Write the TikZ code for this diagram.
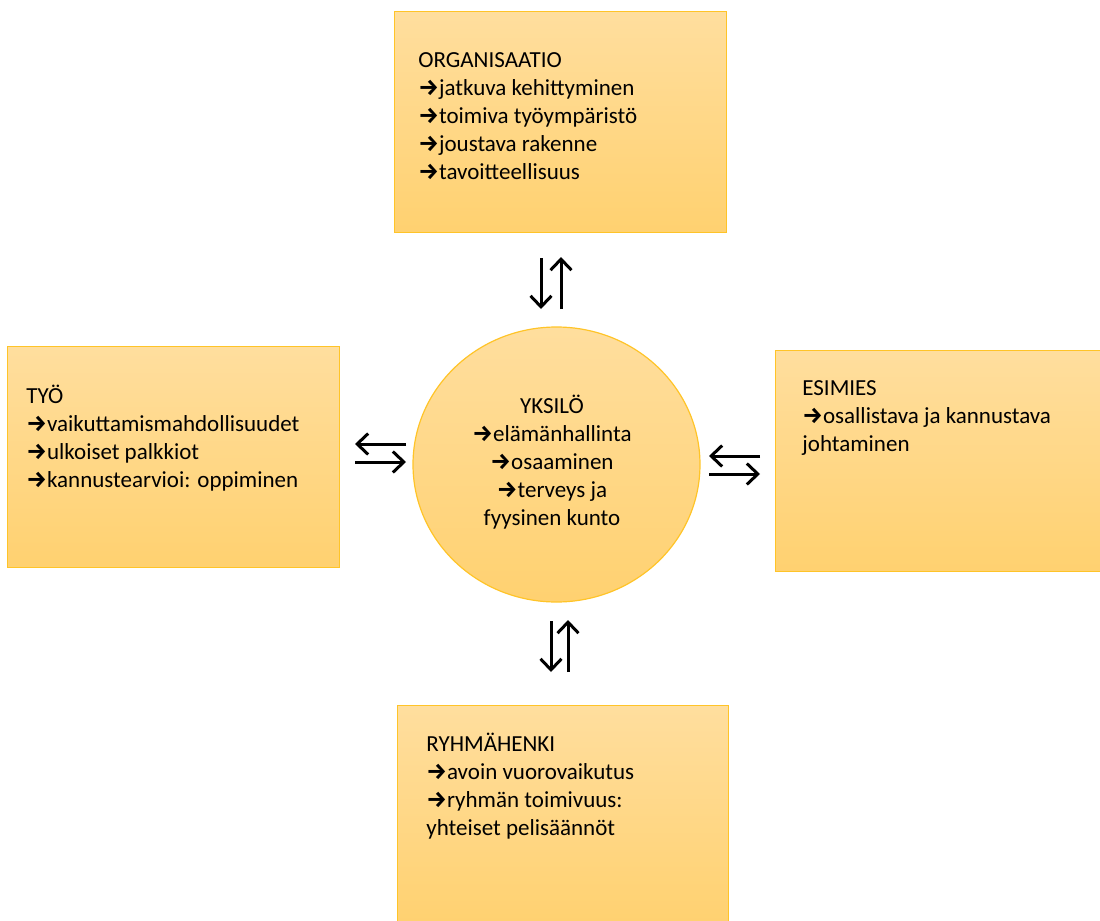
\documentclass[tikz,border=0pt]{standalone}
\usepackage{fontspec}
\setmainfont{Carlito}
\newfontfamily\arrowfont{Fira Sans}
\usetikzlibrary{arrows.meta,shapes.geometric}

\definecolor{goldtop}{RGB}{255,222,158}
\definecolor{goldbot}{RGB}{255,209,112}
\definecolor{goldedge}{RGB}{255,196,40}

% bullet arrow used in front of the list items
\newcommand{\ra}{{\arrowfont\bfseries →}}

\begin{document}
\begin{tikzpicture}[x=0.5pt,y=-0.5pt,
  panel/.style={draw=goldedge, line width=0.6pt, top color=goldtop, bottom color=goldbot,
    rectangle, anchor=north west, inner sep=0pt},
  blob/.style={draw=goldedge, line width=0.6pt, top color=goldtop, bottom color=goldbot,
    ellipse, inner sep=0pt},
  txt/.style={anchor=base west, align=left, inner sep=0pt,
    font=\fontsize{11.5}{14}\selectfont},
  ctxt/.style={anchor=base, align=center, inner sep=0pt,
    font=\fontsize{11.5}{14}\selectfont},
  flow/.style={line width=1.5pt, -{Straight Barb[length=5.5pt,width=10.5pt,line width=1.5pt]}}]

\useasboundingbox (0,0) rectangle (1100,921);

% boxes around the central circle
\node[panel, minimum width=166pt, minimum height=110.5pt] (org) at (394,11) {};
\node[panel, minimum width=166pt, minimum height=110.5pt] (tyo) at (7,346) {};
\node[panel, minimum width=166pt, minimum height=110.5pt] (esi) at (775,350) {};
\node[panel, minimum width=165.5pt, minimum height=110pt] (ryh) at (397,705) {};
\node[blob, minimum width=143.5pt, minimum height=137.5pt] (yks) at (556.5,464.5) {};

% texts (anchored at the baseline of their last line)
\node[txt] (orgt) at (418,179) {ORGANISAATIO\\\ra jatkuva kehittyminen\\\ra toimiva työympäristö\\\ra joustava rakenne\\\ra tavoitteellisuus};
\node[txt] (tyot) at (26,487) {TYÖ\\\ra vaikuttamismahdollisuudet\\\ra ulkoiset palkkiot\\\ra kannustearvioi: oppiminen};
\node[txt] (esit) at (802,451) {ESIMIES\\\ra osallistava ja kannustava\\johtaminen};
\node[txt] (ryht) at (426,835) {RYHMÄHENKI\\\ra avoin vuorovaikutus\\\ra ryhmän toimivuus:\\yhteiset pelisäännöt};
\node[ctxt] (ykst) at (552,525) {YKSILÖ\\\ra elämänhallinta\\\ra osaaminen\\\ra terveys ja\\fyysinen kunto};

% two-way arrows between the circle and each box
\coordinate (ta1) at (541,258); \coordinate (ta2) at (541,309);
\coordinate (tb1) at (561,309); \coordinate (tb2) at (561,257);
\draw[flow] (ta1) -- (ta2);
\draw[flow] (tb1) -- (tb2);

\coordinate (ba1) at (551,621); \coordinate (ba2) at (551,672);
\coordinate (bb1) at (568,672); \coordinate (bb2) at (568,620);
\draw[flow] (ba1) -- (ba2);
\draw[flow] (bb1) -- (bb2);

\coordinate (la1) at (406,444); \coordinate (la2) at (355,444);
\coordinate (lb1) at (355,462); \coordinate (lb2) at (406,462);
\draw[flow] (la1) -- (la2);
\draw[flow] (lb1) -- (lb2);

\coordinate (ra1) at (760,456); \coordinate (ra2) at (709,456);
\coordinate (rb1) at (709,474); \coordinate (rb2) at (760,474);
\draw[flow] (ra1) -- (ra2);
\draw[flow] (rb1) -- (rb2);

\end{tikzpicture}
\end{document}
